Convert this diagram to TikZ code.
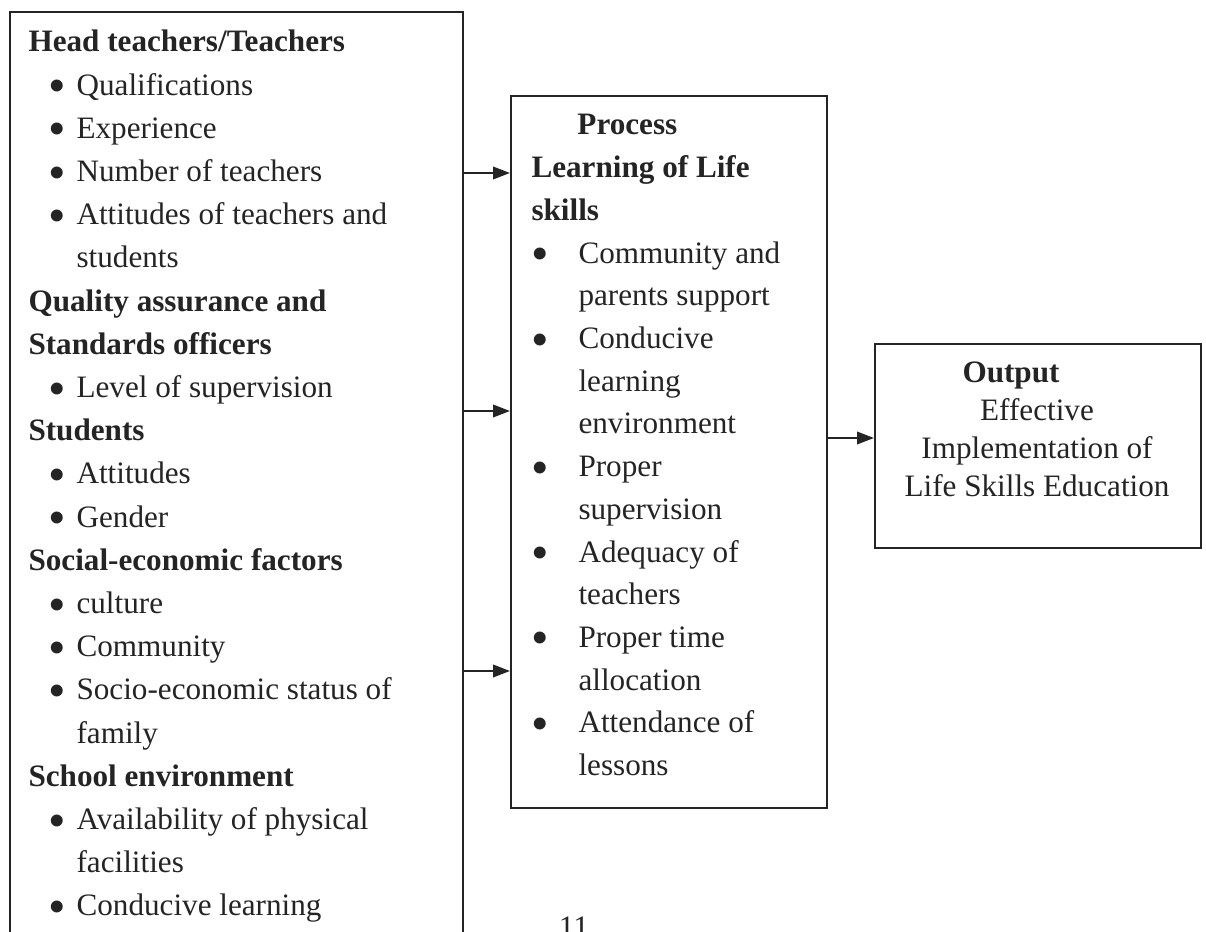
\documentclass[tikz,border=0pt]{standalone}
\usepackage{fontspec}
\setmainfont{Liberation Serif}
\usetikzlibrary{arrows.meta,fit}

\definecolor{ink}{HTML}{242424}
\newcommand{\hd}[1]{\textbf{#1}}
\newcommand{\bdot}{\smash{\raisebox{-2.9pt}{\scalebox{1.6}{\textbullet}}}}
\newcommand{\lbul}{\hspace*{7.8pt}\makebox[10.7pt][l]{\bdot}}
\newcommand{\lcont}{\hspace*{18.5pt}}
\newcommand{\mbul}{\makebox[18.1pt][l]{\bdot}}
\newcommand{\mcont}{\hspace*{18.1pt}}

\begin{document}
\begin{tikzpicture}[x=0.385pt,y=-0.385pt,
    box/.style={draw=ink,line width=0.8pt,inner sep=0pt},
    txt/.style={anchor=base west,inner sep=0pt,text=ink,font=\fontsize{12pt}{16.63pt}\selectfont},
    arr/.style={draw=ink,line width=0.8pt,-{Triangle[length=6.5pt,width=4.8pt]}}]
\useasboundingbox (0,0) rectangle (1206,932);
\clip (0,0) rectangle (1206,932);

% boxes
\node[box,fit={(10,12) (463,960)}] (inputs) {};
\node[box,fit={(511,96) (827,808)}] (process) {};
\node[box,fit={(875,344) (1201,548)}] (output) {};

% input factors
\node[txt] (inlist) at (28,52) {\begin{tabular}[t]{@{}l@{}}
  \hd{Head teachers/Teachers}\\
  \lbul Qualifications\\
  \lbul Experience\\
  \lbul Number of teachers\\
  \lbul Attitudes of teachers and\\
  \lcont students\\
  \hd{Quality assurance and}\\
  \hd{Standards officers}\\
  \lbul Level of supervision\\
  \hd{Students}\\
  \lbul Attitudes\\
  \lbul Gender\\
  \hd{Social-economic factors}\\
  \lbul culture\\
  \lbul Community\\
  \lbul Socio-economic status of\\
  \lcont family\\
  \hd{School environment}\\
  \lbul Availability of physical\\
  \lcont facilities\\
  \lbul Conducive learning
\end{tabular}};

% process
\node[txt,font=\fontsize{12pt}{16.44pt}\selectfont] (proclist) at (531,135) {\begin{tabular}[t]{@{}l@{}}
  \hspace*{17.7pt}\hd{Process}\\
  \hd{Learning of Life}\\
  \hd{skills}\\
  \mbul Community and\\
  \mcont parents support\\
  \mbul Conducive\\
  \mcont learning\\
  \mcont environment\\
  \mbul Proper\\
  \mcont supervision\\
  \mbul Adequacy of\\
  \mcont teachers\\
  \mbul Proper time\\
  \mcont allocation\\
  \mbul Attendance of\\
  \mcont lessons
\end{tabular}};

% output
\node[txt] (outhead) at (962,383) {\hd{Output}};
\node[txt,anchor=base,font=\fontsize{12pt}{14.63pt}\selectfont] (outtext) at (1037,421) {\begin{tabular}[t]{@{}c@{}}
  Effective\\
  Implementation of\\
  Life Skills Education
\end{tabular}};

% page number
\node[txt,anchor=base] (pagenum) at (574,938) {11};

% connectors
\draw[arr] (inputs.east |- 0,173) -- (process.west |- 0,173);
\draw[arr] (inputs.east |- 0,411) -- (process.west |- 0,411);
\draw[arr] (inputs.east |- 0,671) -- (process.west |- 0,671);
\draw[arr] (process.east |- 0,438) -- (output.west |- 0,438);
\end{tikzpicture}
\end{document}
